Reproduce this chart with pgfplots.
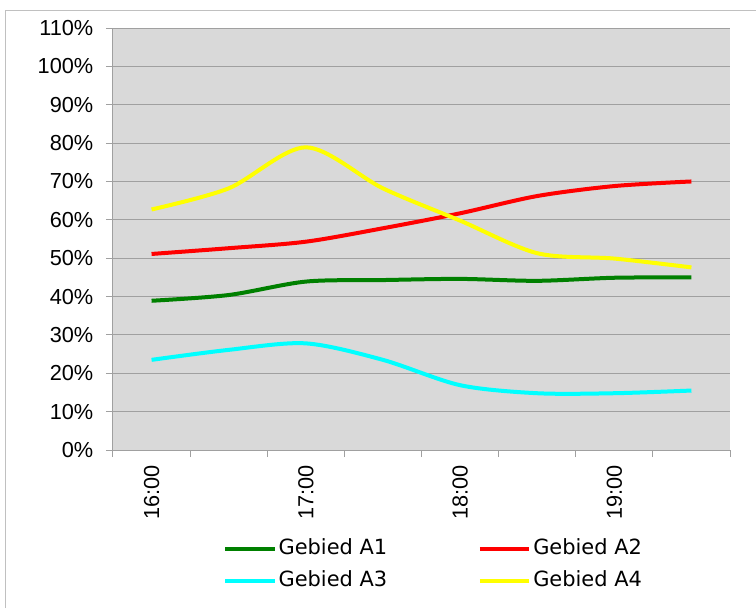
\documentclass[border=0pt]{standalone}
\usepackage{fontspec}
\setmainfont{Liberation Sans}
\newfontfamily\legendfont{DejaVu Sans}
\usepackage{pgfplots}
\pgfplotsset{compat=1.18}

\definecolor{plotbg}{HTML}{D9D9D9}
\definecolor{gridgray}{HTML}{A0A0A0}
\definecolor{framegray}{HTML}{C0C0C0}
\definecolor{xlgreen}{HTML}{008000}
\definecolor{xlred}{HTML}{FF0000}
\definecolor{xlcyan}{HTML}{00FFFF}
\definecolor{xlyellow}{HTML}{FFFF00}

\begin{document}
\begin{tikzpicture}
\begin{axis}[
    at={(0,0)}, anchor=south west,
    scale only axis,
    width=462.75pt, height=316.5pt,
    xmin=0.5, xmax=8.5,
    ymin=0, ymax=110,
    axis lines*=left,
    axis line style={gridgray, line width=0.75pt},
    axis background/.style={fill=plotbg},
    xtick={0.5,1.5,...,8.5},
    xticklabels={},
    extra x ticks={1,3,5,7},
    extra x tick labels={16:00,17:00,18:00,19:00},
    extra x tick style={major tick length=0pt,
        tick label style={rotate=90, anchor=east, xshift=-8pt}},
    ytick={0,10,...,110},
    yticklabels={0\%,10\%,20\%,30\%,40\%,50\%,60\%,70\%,80\%,90\%,100\%,110\%},
    ymajorgrids,
    grid style={gridgray, line width=0.75pt},
    tick align=outside,
    major tick length=5.25pt,
    tick style={gridgray, line width=0.75pt},
    tick label style={font=\fontsize{16.3}{19}\selectfont, black},
    yticklabel style={xshift=-6pt},
    legend columns=2,
    legend cell align=left,
    legend style={draw=none, fill=none, at={(82.5pt,-67pt)}, anchor=north west,
        font=\legendfont\fontsize{15.7}{18}\selectfont,
        inner sep=0pt,
        nodes={inner sep=0pt, text height=11.5pt, text depth=3pt},
        /tikz/row sep=9pt,
        /tikz/every odd column/.append style={column sep=1.5pt},
        /tikz/every even column/.append style={column sep=68pt}},
    legend image code/.code={\draw[line width=3pt] (0pt,0pt) -- (37pt,0pt);},
]

\addplot[xlgreen, line width=3pt, smooth] coordinates {
    (1,38.9)(2,40.4)(3,43.9)(4,44.3)(5,44.6)(6,44.1)(7,44.9)(8,45.0)};
\addlegendentry{Gebied A1}

\addplot[xlred, line width=3pt, smooth] coordinates {
    (1,51.1)(2,52.6)(3,54.3)(4,57.8)(5,61.7)(6,66.2)(7,68.8)(8,70.0)};
\addlegendentry{Gebied A2}

\addplot[xlcyan, line width=3pt, smooth] coordinates {
    (1,23.5)(2,26.1)(3,27.8)(4,23.5)(5,16.9)(6,14.8)(7,14.8)(8,15.5)};
\addlegendentry{Gebied A3}

\addplot[xlyellow, line width=3pt, smooth] coordinates {
    (1,62.7)(2,68.2)(3,78.9)(4,68.2)(5,59.8)(6,51.3)(7,49.9)(8,47.6)};
\addlegendentry{Gebied A4}

\end{axis}
% outer chart frame (cut off at the right and bottom)
\draw[framegray, line width=0.75pt] (-80.25pt,-118.5pt) -- (-80.25pt,329.25pt) -- (482.25pt,329.25pt);
\pgfresetboundingbox
\path[use as bounding box] (-84.75pt,-118.5pt) rectangle (482.25pt,337.5pt);
\end{tikzpicture}
\end{document}
